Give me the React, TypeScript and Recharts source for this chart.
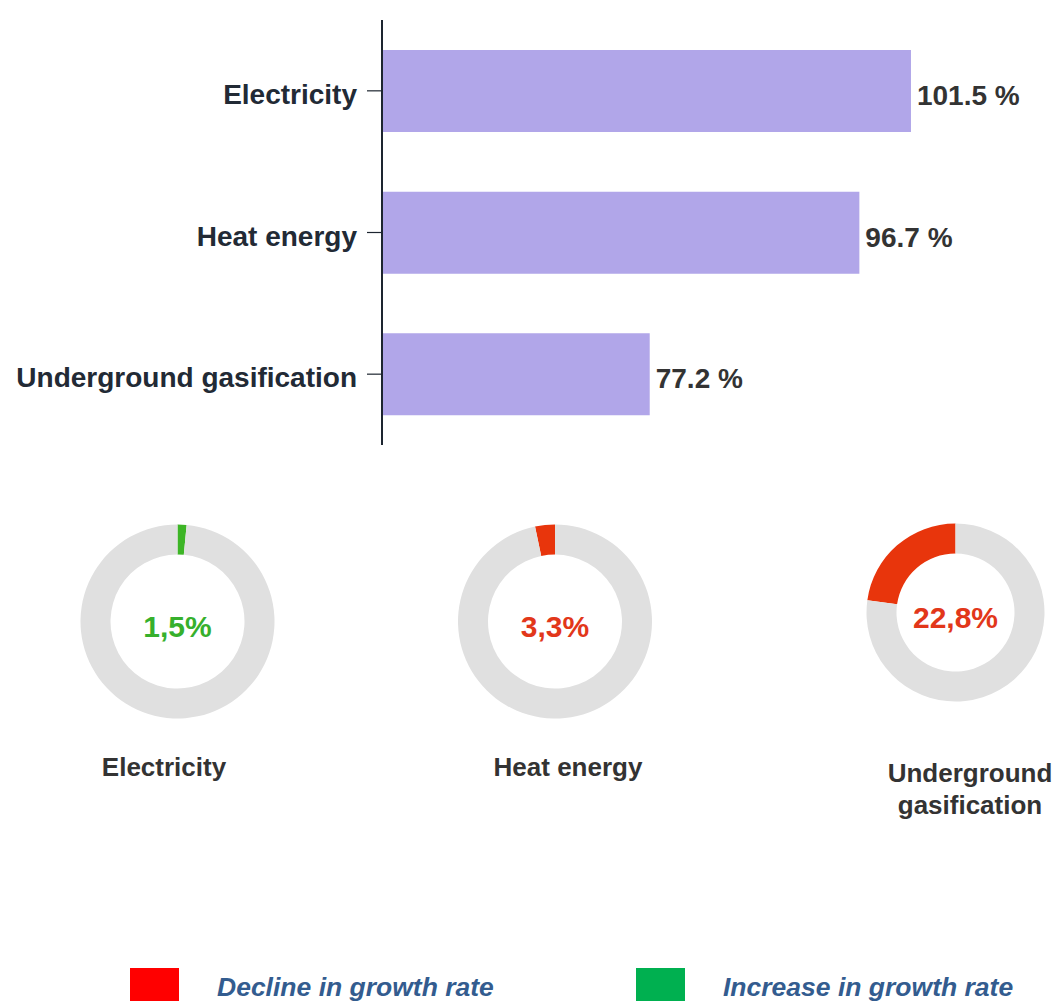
import { BarChart, Bar, XAxis, YAxis, LabelList, PieChart, Pie, Cell } from 'recharts'

const categories = ['Electricity', 'Heat energy', 'Underground gasification']
const levels = [101.5, 96.7, 77.2]
const changes = [1.5, 3.3, 22.8]
const directions = ['increase', 'decline', 'decline']
const changeLabels = ['1,5%', '3,3%', '22,8%']
const donutCaptions = [['Electricity'], ['Heat energy'], ['Underground', 'gasification']]
const legendLabels = ['Decline in growth rate', 'Increase in growth rate']

const FONT = '"Liberation Sans", Arial, sans-serif'
const BAR_COLOR = '#b1a6e9'
const RING_GRAY = '#e0e0e0'
const COLORS = {
  increase: { ring: '#3db526', text: '#36b02c' },
  decline: { ring: '#e8350c', text: '#e2371a' },
}

// donut placement inside the pie chart (chart sits at top 480)
const DONUTS = [
  { cx: 177.5, cy: 141.5, inner: 67, outer: 97, captionX: 164, captionY: 751 },
  { cx: 555, cy: 141.5, inner: 67, outer: 97, captionX: 568, captionY: 751 },
  { cx: 955.5, cy: 132.5, inner: 59, outer: 89, captionX: 970, captionY: 757 },
]

function CategoryTick(props: any) {
  const { x, y, payload } = props
  return (
    <text x={x} y={y} dy={13} textAnchor="end" fill="#222a35" fontSize={28} fontWeight={700} fontFamily={FONT}>
      {payload.value}
    </text>
  )
}

function ValueLabel(props: any) {
  const { x, y, width, height, value } = props
  return (
    <text x={x + width + 6} y={y + height / 2 + 14} fill="#333333" fontSize={28} fontWeight={700} fontFamily={FONT}>
      {`${value} %`}
    </text>
  )
}

export default function App() {
  const barData = categories.map((name, i) => ({ name, value: levels[i] }))

  return (
    <div style={{ position: 'absolute', left: 0, top: 0, width: 1057, height: 1001, overflow: 'hidden', background: '#fff', fontFamily: FONT }}>
      <div style={{ position: 'absolute', left: 0, top: 0 }}>
        <BarChart width={1057} height={465} data={barData} layout="vertical" margin={{ top: 20, right: 17, bottom: 20, left: 0 }}>
          <XAxis type="number" domain={[52.3, 113.5]} hide />
          <YAxis
            type="category"
            dataKey="name"
            width={382}
            axisLine={{ stroke: '#1d2530', strokeWidth: 2 }}
            tickLine={{ stroke: '#1d2530', strokeWidth: 1.2 }}
            tickSize={15}
            tickMargin={10}
            tick={CategoryTick}
          />
          <Bar dataKey="value" fill={BAR_COLOR} barSize={82} isAnimationActive={false}>
            <LabelList dataKey="value" content={ValueLabel} />
          </Bar>
        </BarChart>
      </div>

      <div style={{ position: 'absolute', left: 0, top: 480 }}>
        <PieChart width={1057} height={260} margin={{ top: 0, right: 0, bottom: 0, left: 0 }}>
          {changes.map((c, i) => {
            const d = DONUTS[i]
            const dir = directions[i] as 'increase' | 'decline'
            return (
              <Pie
                key={i}
                data={[{ v: c }, { v: 100 - c }]}
                dataKey="v"
                cx={d.cx}
                cy={d.cy}
                innerRadius={d.inner}
                outerRadius={d.outer}
                startAngle={90}
                endAngle={dir === 'increase' ? -270 : 450}
                stroke="none"
                isAnimationActive={false}
              >
                <Cell fill={COLORS[dir].ring} />
                <Cell fill={RING_GRAY} />
              </Pie>
            )
          })}
        </PieChart>
      </div>

      {changeLabels.map((t, i) => {
        const d = DONUTS[i]
        const dir = directions[i] as 'increase' | 'decline'
        return (
          <div
            key={t}
            style={{
              position: 'absolute', left: d.cx - 80, width: 160, top: 480 + d.cy + 5 - 15, height: 30,
              lineHeight: '30px', fontSize: 30, fontWeight: 700, textAlign: 'center', color: COLORS[dir].text,
            }}
          >
            {t}
          </div>
        )
      })}

      {donutCaptions.map((lines, i) => {
        const d = DONUTS[i]
        return (
          <div
            key={i}
            style={{
              position: 'absolute', left: d.captionX - 110, width: 220, top: d.captionY,
              fontSize: 26, lineHeight: '32px', fontWeight: 700, textAlign: 'center', color: '#333333',
            }}
          >
            {lines.map((l) => <div key={l}>{l}</div>)}
          </div>
        )
      })}

      {legendLabels.map((l, i) => (
        <div key={l} style={{ position: 'absolute', left: i === 0 ? 130 : 636, top: 968, display: 'flex', alignItems: 'flex-start' }}>
          <div style={{ width: 49, height: 40, background: i === 0 ? '#ff0000' : '#00b050' }} />
          <div style={{ marginLeft: i === 0 ? 38 : 38, marginTop: 4, fontSize: 26.5, lineHeight: '30px', fontWeight: 700, fontStyle: 'italic', color: '#335c8f' }}>
            {l}
          </div>
        </div>
      ))}
    </div>
  )
}
